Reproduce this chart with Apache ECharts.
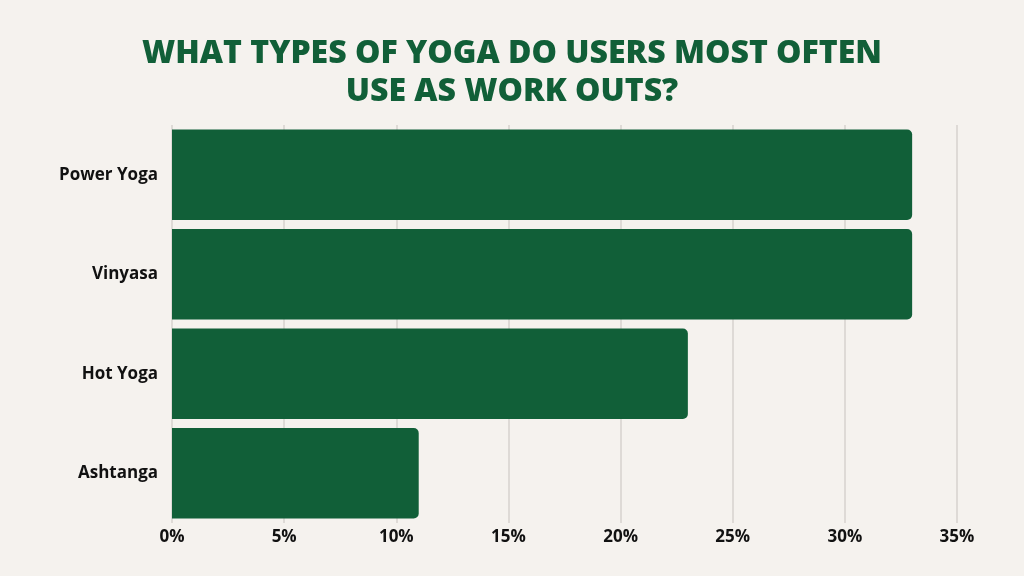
<!DOCTYPE html>
<html><head><meta charset="utf-8">
<script src="https://cdn.jsdelivr.net/npm/echarts@6/dist/echarts.min.js"></script>
<style>html,body{margin:0;padding:0;background:#F5F2EE;}#c{width:1024px;height:576px;}</style>
</head><body><div id="c"></div>
<script>
var categories = ['Power Yoga', 'Vinyasa', 'Hot Yoga', 'Ashtanga'];
var values = [33, 33, 23, 11];
var xTicks = [0, 5, 10, 15, 20, 25, 30, 35];

var chart = echarts.init(document.getElementById('c'));
chart.setOption({
  backgroundColor: '#F5F2EE',
  title: {
    text: 'WHAT TYPES OF YOGA DO USERS MOST OFTEN\nUSE AS WORK OUTS?',
    left: 'center', top: 30,
    textStyle: { fontFamily: 'Open Sans', fontWeight: 800, fontSize: 32, color: '#115F38', lineHeight: 38 }
  },
  grid: { left: 172, right: 67, top: 125, bottom: 53 },
  xAxis: {
    type: 'value', min: 0, max: 35, interval: 5,
    axisLine: { show: false }, axisTick: { show: false },
    splitLine: { show: true, lineStyle: { color: '#D6D2CE', width: 1.5 } },
    axisLabel: { formatter: '{value}%', fontFamily: 'Open Sans', fontWeight: 'bold', fontSize: 17, color: '#111', margin: 6 }
  },
  yAxis: {
    type: 'category', data: categories, inverse: true,
    axisLine: { show: false }, axisTick: { show: false },
    axisLabel: { fontFamily: 'Open Sans', fontWeight: 'bold', fontSize: 17, color: '#111', margin: 14 }
  },
  series: [{
    type: 'bar', data: values, barCategoryGap: '9%',
    itemStyle: { color: '#115F38', borderRadius: [0, 5, 5, 0] },
    silent: true
  }]
});
</script></body></html>
